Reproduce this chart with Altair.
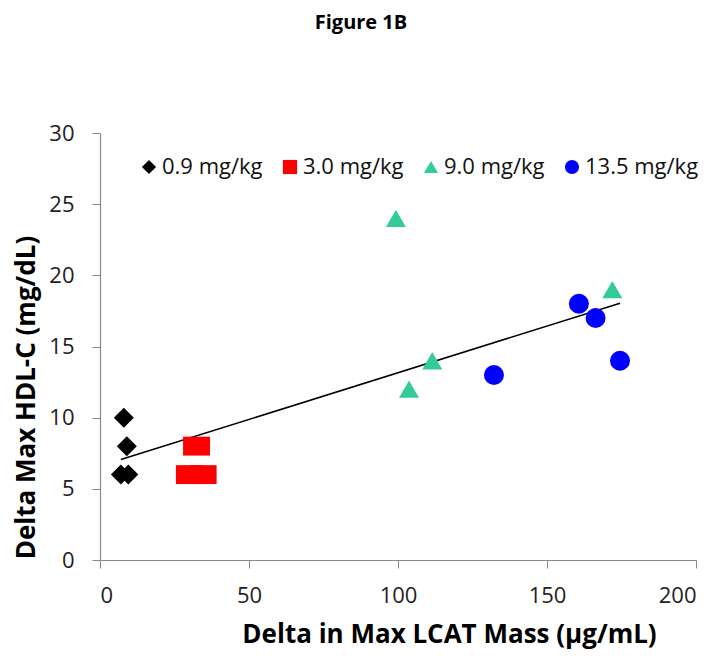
import altair as alt
import pandas as pd

groups = ["0.9 mg/kg", "3.0 mg/kg", "9.0 mg/kg", "13.5 mg/kg"]
colors = ["#000000", "#FF0000", "#33CC99", "#0000FF"]
shapes = ["diamond", "square", "triangle-up", "circle"]

x_09 = [8.0, 9.0, 7.0, 9.5]
y_09 = [10, 8, 6, 6]
x_30 = [32.4, 30.0, 34.6]
y_30 = [8, 6, 6]
x_90 = [99.3, 111.5, 103.7, 171.9]
y_90 = [24, 14, 12, 19]
x_135 = [160.7, 166.3, 174.5, 132.2]
y_135 = [18, 17, 14, 13]

rows = []
for g, xs, ys in zip(groups, [x_09, x_30, x_90, x_135], [y_09, y_30, y_90, y_135]):
    for xv, yv in zip(xs, ys):
        rows.append({"group": g, "lcat": xv, "hdl": yv})
df = pd.DataFrame(rows)

FONT = "Open Sans"

xenc = alt.X("lcat:Q", scale=alt.Scale(domain=[0, 200], nice=False),
             axis=alt.Axis(title="Delta in Max LCAT Mass (µg/mL)", values=[0, 50, 100, 150, 200],
                           titleX=349, titleY=74, titleBaseline="middle", titleAlign="center",
                           titleFontSize=26, labelPadding=17))
yenc = alt.Y("hdl:Q", scale=alt.Scale(domain=[0, 30], nice=False),
             axis=alt.Axis(title="Delta Max HDL-C (mg/dL)", values=[0, 5, 10, 15, 20, 25, 30],
                           titleX=-74, titleY=264, titleBaseline="middle", titleAngle=-90,
                           titleAlign="center", titleFontSize=26, labelPadding=18))

base = alt.Chart(df)

pts = base.transform_filter(alt.datum.group != "3.0 mg/kg").mark_point(
    filled=True, opacity=1, size=400
).encode(
    x=xenc, y=yenc,
    color=alt.Color("group:N", scale=alt.Scale(domain=groups, range=colors),
                    legend=alt.Legend(title=None, orient="none", direction="horizontal",
                                      legendX=38, legendY=23, symbolSize=200,
                                      labelFontSize=22, labelFont=FONT, labelColor="#111",
                                      columnPadding=16, labelOffset=2, symbolOpacity=1)),
    shape=alt.Shape("group:N", scale=alt.Scale(domain=groups, range=shapes)),
)

rects = base.transform_filter(alt.datum.group == "3.0 mg/kg").mark_point(
    filled=True, opacity=1, size=729, shape="M-1,-0.7H1V0.7H-1Z", color="#FF0000"
).encode(x="lcat:Q", y="hdl:Q")

line = base.transform_regression("lcat", "hdl").mark_line(color="#000000", strokeWidth=1.6).encode(
    x="lcat:Q", y="hdl:Q"
)

chart = alt.layer(line, rects, pts).properties(
    width=596, height=427,
    autosize=alt.AutoSizeParams(type="none"),
    padding={"left": 92, "top": 125, "right": 22, "bottom": 92},
    title=alt.TitleParams("Figure 1B", font=FONT, fontSize=20, fontWeight="bold", color="#000",
                          anchor="middle", frame="group", dx=-37, offset=89),
).configure_view(stroke=None).configure_axis(
    grid=False, domainColor="#888888", tickColor="#888888", tickSize=8, domainWidth=1.2,
    labelFont=FONT, labelFontSize=22, labelColor="#222",
    titleFont=FONT, titleFontSize=27, titleFontWeight="bold", titleColor="#000",
)

chart.save("out.html", embed_options={"renderer": "svg", "actions": False})
